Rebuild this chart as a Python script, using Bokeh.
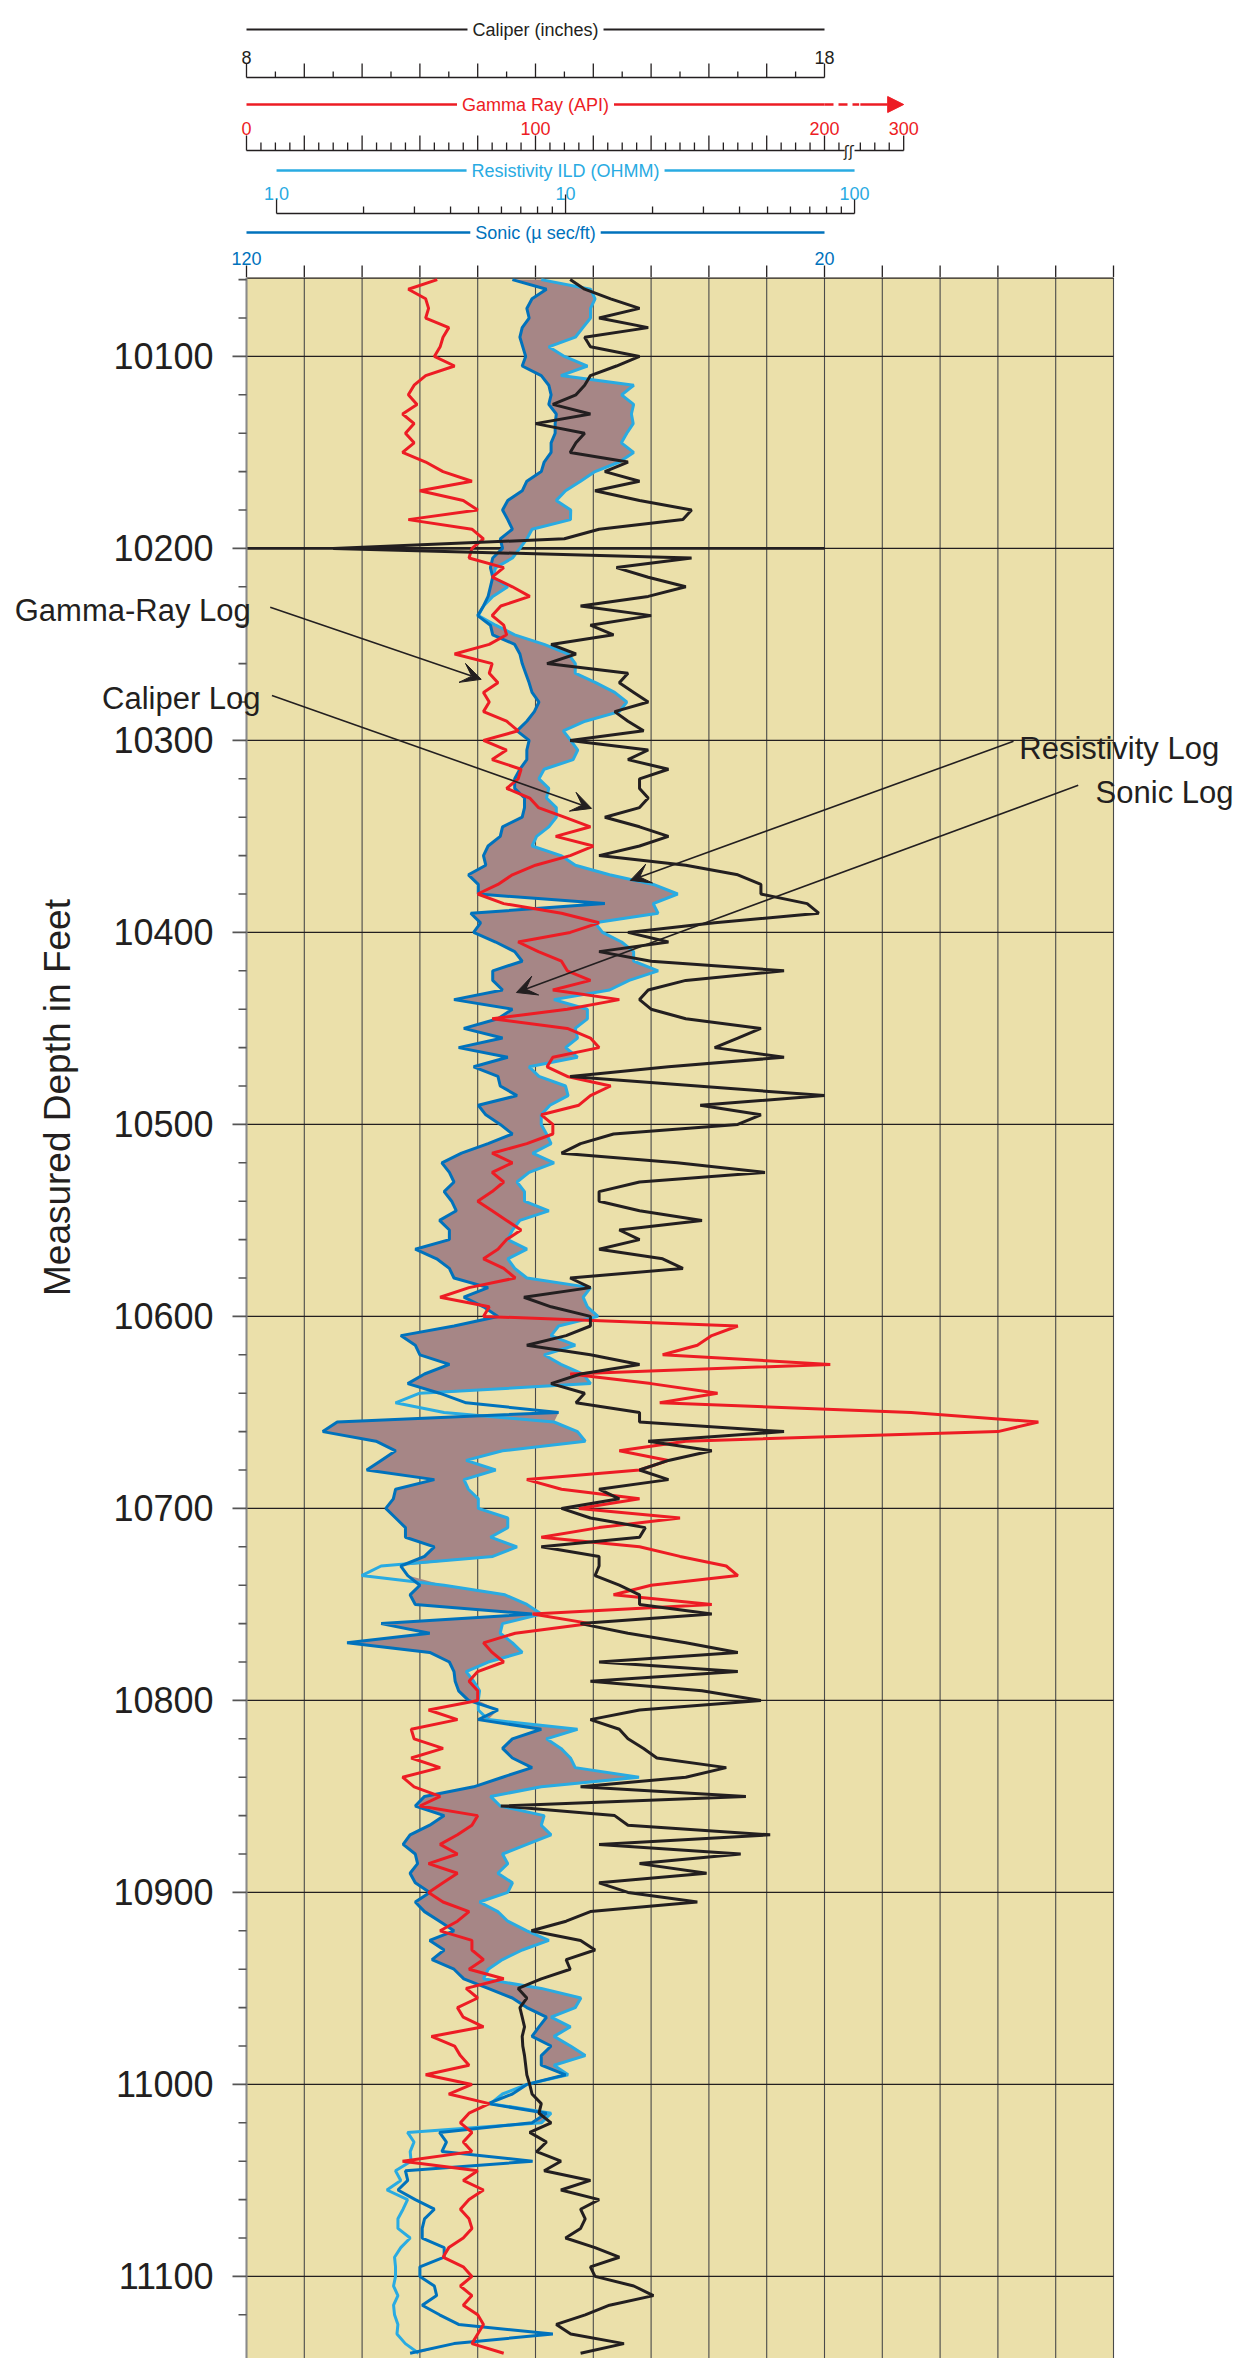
import numpy as np
from bokeh.plotting import figure
from bokeh.layouts import column
from bokeh.models import (Range1d, LogScale, Label, Arrow, VeeHead, NormalHead,
                          BoxAnnotation, ColumnDataSource)
from bokeh.embed import file_html
from bokeh.resources import INLINE
from bokeh.core.properties import value

# ---------------- data ----------------
depth_ft = list(range(10060, 11141, 5))

gamma_api = [
    66, 56, 62, 63, 62, 70, 68, 67, 65, 72, 62, 58, 56, 59, 54, 58, 55, 58, 54, 62,
    68, 78, 60, 75, 80, 56, 78, 82, 78, 77, 89, 85, 92, 98, 88, 85,
    89, 90, 84, 72, 85, 84, 87, 82, 84, 82, 90, 94, 82, 90, 85, 95, 94, 90, 98, 101,
    110, 119, 107, 120, 112, 100, 92, 87, 80, 89, 109, 122, 112, 94, 101, 109,
    111, 119, 106, 129, 111, 85, 111, 119, 122, 106, 104, 111, 126, 119, 115, 102, 106, 106, 97, 85,
    92, 85, 89, 85, 80, 85, 90, 95, 90, 87, 82, 89, 93, 77, 67, 84, 82,
    170, 161, 156, 144, 202, 112, 140, 163, 143, 230, 274, 260, 152, 129, 146, 136, 97, 109, 136, 115,
    150, 122, 102, 136, 150, 166, 170, 140, 127, 161, 99, 119, 93, 82, 85, 89,
    80, 77, 80, 80, 63, 73, 57, 58, 68, 57, 67, 54, 58, 67, 60, 80, 78, 73, 67, 73,
    63, 73, 68, 63, 68, 77, 73, 67, 78, 78, 82, 77, 89, 76, 80, 73, 75,
    82, 64, 72, 74, 77, 62, 78, 70, 84, 77, 74, 78, 75, 78, 54, 80, 75, 82, 77, 74,
    77, 78, 75, 70, 68, 75, 78, 74, 78, 75, 80, 82, 80, 78, 89,
]

caliper_in = [
    13.6, 13.85, 14.3, 14.8, 14.1, 14.95, 13.85, 13.95, 14.8, 14.4, 13.95, 13.85, 13.7, 13.3, 13.95,
    13.0, 13.85, 13.7, 13.6, 14.6, 14.2, 14.8, 14.03, 14.8, 15.7, 15.55, 14.1, 13.5, 9.5, 15.7,
    14.4, 14.95, 15.6, 14.95, 13.78, 15.0,
    13.95, 14.35, 13.27, 13.7, 13.2, 14.6, 14.45, 14.7, 14.95, 14.37, 14.6, 14.87, 13.6, 14.95, 14.6,
    15.3, 14.8, 14.8, 14.95, 14.8, 14.2, 14.8, 15.3, 14.8, 14.1, 15.6, 16.5, 16.9, 16.9, 17.7,
    17.9, 16.1, 14.6, 15.3, 14.1, 15.0,
    17.3, 15.6, 14.95, 14.8, 15.0, 15.6, 16.9, 16.5, 16.1, 17.3, 15.3, 13.6, 15.8, 18.0, 15.85,
    16.9, 16.5, 14.35, 13.78, 13.45, 15.45, 16.97, 14.8, 14.1, 14.1, 14.8, 15.88, 14.45, 14.8, 14.1,
    15.2, 15.55, 13.6, 13.95, 12.8, 13.27, 13.95,
    13.95, 13.53, 12.85, 13.95, 14.8, 13.78, 13.27, 13.85, 13.7, 14.8, 14.8, 17.3, 14.95, 16.05, 15.3,
    14.8, 15.3, 14.1, 14.45, 13.45, 13.95, 14.9, 14.8, 13.1, 14.1, 14.1, 14.03, 14.45, 14.8, 14.8,
    16.05, 13.78, 14.6, 15.6, 16.5, 14.1,
    16.5, 13.95, 15.88, 16.9, 14.8, 13.95, 14.45, 14.6, 14.87, 15.1, 16.3, 15.6, 13.78, 16.64, 12.4,
    14.37, 14.6, 17.06, 14.1, 16.55, 14.8, 15.96, 14.1, 14.6, 15.8, 13.95, 13.53, 12.93, 13.78, 14.03,
    13.53, 13.6, 13.1, 12.7, 12.85, 12.73, 12.77,
    12.81, 12.77, 12.78, 12.81, 12.83, 12.85, 12.9, 12.94, 13.1, 13.06, 13.27, 12.9, 13.19, 13.02, 13.44,
    13.15, 13.95, 13.44, 14.1, 13.78, 13.86, 13.78, 13.52, 14.03, 14.45, 13.95, 14.03, 14.7, 15.04, 14.28,
    13.86, 13.36, 13.61, 14.53, 13.78,
]

resistivity_ohmm = [
    8.24, 12.2, 12.65, 12.2, 12.2, 11.48, 10.81, 8.75, 9.91, 11.91, 9.64, 17.22, 15.63, 17.2, 16.9,
    17.14, 16.29, 15.6, 17.2, 15.35, 12.65, 11.27, 10.0, 9.29, 10.42, 10.4, 7.66, 7.35, 6.95, 6.55,
    5.73, 5.6, 6.31, 5.6, 5.2, 4.99,
    5.73, 6.67, 8.43, 10.23, 10.81, 10.8, 12.76, 14.79, 16.29, 15.35, 11.69, 9.82, 10.42, 11.02, 10.62,
    8.43, 8.09, 8.75, 8.59, 9.29, 9.29, 8.75, 7.94, 7.66, 9.64, 10.81, 14.19, 20.14, 24.43, 20.1,
    20.89, 12.65, 13.43, 15.63, 17.2, 17.2,
    20.9, 16.6, 14.2, 9.12, 11.9, 11.9, 10.8, 11.0, 10.0, 11.0, 7.48, 8.09, 10.0, 10.2, 8.83,
    8.24, 8.24, 8.59, 8.91, 7.69, 9.12, 7.48, 6.79, 7.21, 7.21, 8.75, 6.95, 6.55, 6.31, 7.35,
    6.31, 6.67, 7.35, 12.2, 11.5, 11.9, 12.94,
    9.46, 8.91, 10.8, 8.43, 9.64, 11.5, 12.2, 3.13, 2.58, 3.80, 9.12, 11.0, 11.7, 6.05, 4.53,
    5.73, 4.45, 4.61, 4.99, 4.99, 6.31, 6.31, 5.50, 6.79, 5.6, 2.30, 1.97, 3.80, 6.17, 7.35,
    8.24, 6.05, 5.94, 6.55, 7.08, 5.40,
    4.53, 4.81, 5.04, 4.99, 4.99, 5.40, 11.0, 8.59, 9.64, 10.4, 10.8, 17.95, 8.24, 5.50, 5.94,
    8.43, 8.24, 8.91, 7.35, 6.05, 6.31, 5.83, 6.55, 6.31, 5.04, 5.83, 6.31, 7.35, 8.75, 7.08,
    6.05, 5.40, 5.2, 8.24, 11.3, 10.8, 8.91,
    10.4, 9.12, 10.4, 11.7, 9.12, 10.2, 7.35, 6.05, 5.50, 8.91, 8.24, 2.84, 2.99, 2.90, 2.92,
    2.58, 2.69, 2.41, 2.84, 2.74, 2.63, 2.63, 2.90, 2.69, 2.56, 2.58, 2.58, 2.54, 2.63, 2.54,
    2.56, 2.63, 2.61, 2.79, 3.10,
]

sonic_us_ft = [
    74.0, 68.1, 70.6, 71.5, 71.1, 72.3, 72.7, 72.2, 71.7, 72.3, 69.0, 67.7, 67.3, 67.7, 66.4,
    66.6, 66.6, 67.3, 67.3, 68.5, 69.0, 71.5, 72.3, 74.8, 75.7, 74.8, 74.0, 76.1, 75.7, 77.4,
    77.8, 77.4, 77.8, 78.2, 79.0, 80.0,
    77.8, 77.4, 73.6, 72.7, 72.3, 71.7, 71.1, 70.6, 69.4, 70.2, 71.5, 73.2, 71.1, 71.5, 71.5,
    72.7, 73.6, 73.6, 71.9, 71.9, 72.3, 75.7, 76.1, 78.2, 79.0, 78.6, 81.6, 79.9, 79.9, 58.0,
    81.2, 79.5, 80.7, 76.9, 73.6, 72.3,
    77.4, 77.4, 75.7, 84.1, 74.0, 76.5, 82.4, 75.7, 83.3, 74.8, 80.7, 76.5, 76.1, 73.2, 79.9,
    78.6, 76.1, 74.0, 78.2, 82.8, 86.2, 84.9, 84.1, 85.8, 84.5, 83.7, 86.6, 84.9, 84.9, 90.8,
    87.1, 84.9, 84.1, 78.2, 82.4, 79.0, 76.5,
    84.1, 93.3, 90.8, 90.0, 84.9, 89.2, 92.1, 86.6, 82.0, 66.0, 104.3, 106.8, 97.6, 94.2, 96.7,
    99.2, 87.5, 94.2, 94.6, 95.9, 94.2, 92.5, 92.5, 87.5, 89.2, 93.3, 92.1, 90.0, 91.7, 90.8,
    70.6, 96.7, 88.3, 102.6, 88.3, 84.9,
    84.1, 83.9, 83.3, 81.6, 76.5, 79.9, 69.0, 74.0, 75.7, 74.0, 70.6, 75.7, 80.7, 89.2, 90.8,
    85.8, 88.3, 91.7, 92.9, 90.8, 90.4, 91.7, 90.8, 88.3, 90.8, 89.2, 86.6, 84.1, 88.3, 85.8,
    87.9, 84.1, 82.4, 78.2, 74.0, 71.5, 68.1,
    69.4, 70.6, 67.3, 69.0, 69.0, 64.8, 71.5, 74.0, 78.2, 68.1, 70.6, 86.6, 85.4, 86.2, 70.5,
    92.5, 92.1, 93.8, 90.8, 87.5, 89.2, 89.6, 89.6, 85.8, 85.8, 90.0, 90.0, 87.5, 87.1, 89.6,
    86.6, 83.3, 67.0, 84.1, 91.7,
]

# depth axis ticks
depth_major = list(range(10100, 11101, 100))
depth_minor = [d for d in range(10060, 11140, 20) if d % 100]
marker_depth = [10200]          # emphasised depth line (drawn across the caliper scale)

# header scale ticks / labels
caliper_major = list(range(8, 19))
caliper_minor = [v + 0.5 for v in range(8, 18)]
caliper_labels = ["8", "18"]
gamma_major = list(range(0, 201, 20))
gamma_minor = [v for v in range(5, 206, 5) if v % 20 != 0]
gamma_hi_minor = [285, 290, 295]
gamma_hi_major = [300]
gamma_label_vals = [0, 100, 200]
res_end = [1, 100]
res_mid = [10]
res_minor = [2, 3, 4, 5, 6, 7, 8, 9, 20, 30, 40, 50, 60, 70, 80, 90]
res_label_vals = [1, 10, 100]
res_labels = ["1.0", "10", "100"]
sonic_ticks = list(range(120, -31, -10))
sonic_label_vals = [120, 20]

# ---------------- styling / geometry ----------------
FONT = "Liberation Sans"
TXT = "#231F20"
RED = "#ED1C24"
CYAN = "#29ABE2"
BLUE = "#0072BC"
FILL = "#A68686"
TAN = "#EBE0AA"
GRIDC = "#4a4a4a"

N_DIV = 15
SON_LEFT, SON_PER_DIV = 120, 10
RES_TRACK0 = 0.52            # track position of 1 ohm-m
RES_DIV_PER_DEC = 5
GR_PER_DIV = 20
GR_HI_300_POS = 11.37        # track position of the "300" mark after the scale break

W, LEFT, RIGHT = 1236, 246, 123
PX = (W - LEFT - RIGHT) / N_DIV      # pixels per track division
T0, T1 = -LEFT / PX, N_DIV + RIGHT / PX
HEAD_H = 277
MAIN_H = 2081
DEPTH_TOP = 10058.9
DEPTH_BOT = DEPTH_TOP + MAIN_H / 1.92


def son_track(v):
    return (SON_LEFT - np.asarray(v, float)) / SON_PER_DIV


def res_track(r):
    return RES_TRACK0 + RES_DIV_PER_DEC * np.log10(np.asarray(r, float))


def add_ranges(fig):
    fig.extra_x_ranges = {
        "cal": Range1d(8 + T0, 8 + T1),
        "gr": Range1d(GR_PER_DIV * T0, GR_PER_DIV * T1),
        "gr_hi": Range1d(300 + (T0 - GR_HI_300_POS) * GR_PER_DIV, 300 + (T1 - GR_HI_300_POS) * GR_PER_DIV),
        "son": Range1d(SON_LEFT - SON_PER_DIV * T0, SON_LEFT - SON_PER_DIV * T1),
        "res": Range1d(10 ** ((T0 - RES_TRACK0) / RES_DIV_PER_DEC), 10 ** ((T1 - RES_TRACK0) / RES_DIV_PER_DEC)),
    }
    fig.extra_x_scales = {"res": LogScale()}


track_range = Range1d(T0, T1)

# ---------------- main log track ----------------
p = figure(width=W, height=MAIN_H, x_range=track_range,
           y_range=Range1d(DEPTH_BOT, DEPTH_TOP),
           x_axis_location=None, y_axis_location=None,
           output_backend="svg", toolbar_location=None,
           min_border_left=0, min_border_right=0, min_border_top=0, min_border_bottom=0,
           background_fill_color="white", border_fill_color="white", outline_line_color=None)
add_ranges(p)
p.xgrid.visible = False
p.ygrid.visible = False

p.add_layout(BoxAnnotation(left=0, right=N_DIV, fill_color=TAN, fill_alpha=1.0,
                           line_color=None, level="underlay"))

divs = list(range(0, N_DIV + 1))
p.segment(x0=divs, x1=divs, y0=[DEPTH_TOP] * len(divs), y1=[DEPTH_BOT] * len(divs),
          line_color=GRIDC, line_width=1.1)
p.segment(x0=[0] * len(depth_major), x1=[N_DIV] * len(depth_major), y0=depth_major, y1=depth_major,
          line_color=TXT, line_width=1.2)
p.segment(x0=[caliper_major[0]], x1=[caliper_major[-1]], y0=marker_depth, y1=marker_depth,
          x_range_name="cal", line_color=TXT, line_width=2.6)
p.segment(x0=[0], x1=[N_DIV], y0=[DEPTH_TOP], y1=[DEPTH_TOP], line_color=TXT, line_width=2.4)

# depth axis (left edge of the track)
p.segment(x0=[0], x1=[0], y0=[DEPTH_TOP], y1=[DEPTH_BOT], line_color="#8a8a8a", line_width=2)
p.segment(x0=[-14 / PX] * len(depth_major), x1=[0] * len(depth_major), y0=depth_major, y1=depth_major,
          line_color="#555555", line_width=1.6)
p.segment(x0=[-8 / PX] * len(depth_minor), x1=[0] * len(depth_minor), y0=depth_minor, y1=depth_minor,
          line_color="#555555", line_width=1.6)
p.text(x=[-33 / PX] * len(depth_major), y=depth_major, text=[str(d) for d in depth_major],
       text_align="right", text_baseline="middle", text_font=value(FONT),
       text_font_size=value("36px"), text_color=TXT)
p.text(x=[T0 + 57 / PX], y=[10486], text=["Measured Depth in Feet"], angle=np.pi / 2,
       text_align="center", text_baseline="middle", text_font=value(FONT),
       text_font_size=value("37px"), text_color=TXT)

s_tr = son_track(sonic_us_ft)
r_tr = res_track(resistivity_ohmm)
src = ColumnDataSource(dict(depth=depth_ft, gamma=gamma_api, cal=caliper_in,
                            res=resistivity_ohmm, son=sonic_us_ft,
                            s_tr=s_tr, fill_to=np.maximum(r_tr, s_tr)))

p.harea(x1="s_tr", x2="fill_to", y="depth", source=src, fill_color=FILL, fill_alpha=1.0)
p.line(x="res", y="depth", source=src, x_range_name="res", line_color=CYAN, line_width=3)
p.line(x="son", y="depth", source=src, x_range_name="son", line_color=BLUE, line_width=3)
p.line(x="gamma", y="depth", source=src, x_range_name="gr", line_color=RED, line_width=3)
p.line(x="cal", y="depth", source=src, x_range_name="cal", line_color=TXT, line_width=3)

# callouts
callouts = [
    ("Gamma-Ray Log", -4.01, 10232.3, (0.41, 10230.7), (4.06, 10268.2)),
    ("Caliper Log", -2.50, 10278.1, (0.44, 10276.6), (5.97, 10335.4)),
    ("Resistivity Log", 13.37, 10304.2, (13.27, 10300.5), (6.64, 10372.9)),
    ("Sonic Log", 14.69, 10327.1, (14.39, 10323.4), (4.67, 10431.3)),
]
for text, tx, ty, (x0, y0), (x1, y1) in callouts:
    p.add_layout(Label(x=tx, y=ty, text=text, text_font=FONT, text_font_size="31px",
                       text_color=TXT, text_align="left", text_baseline="alphabetic"))
    p.add_layout(Arrow(x_start=x0, y_start=y0, x_end=x1, y_end=y1, line_color=TXT, line_width=1.6,
                       end=VeeHead(size=20, fill_color=TXT, line_color=TXT, line_width=1)))

# mirror label, almost entirely beyond the right edge of the page
p.add_layout(Label(x=17.42, y=10588, text="Measured Depth in Feet", angle=90, angle_units="deg",
                   text_font=FONT, text_font_size="32px", text_color=TXT,
                   text_align="left", text_baseline="alphabetic"))

# ---------------- header with the scales ----------------
h = figure(width=W, height=HEAD_H, x_range=track_range, y_range=Range1d(HEAD_H, 0),
           x_axis_location=None, y_axis_location=None,
           output_backend="svg", toolbar_location=None,
           min_border_left=0, min_border_right=0, min_border_top=0, min_border_bottom=0,
           outline_line_color=None, background_fill_color="white", border_fill_color="white")
add_ranges(h)
h.xgrid.visible = False
h.ygrid.visible = False


def ticks(vals, y_top, y_bot, rng, color=TXT, width=1.3):
    n = len(vals)
    h.segment(x0=vals, x1=vals, y0=[y_top] * n, y1=[y_bot] * n, x_range_name=rng,
              line_color=color, line_width=width)


def title(x, y, text, rng, color):
    h.add_layout(Label(x=x, y=y, text=text, x_range_name=rng, text_font=FONT, text_font_size="18px",
                       text_color=color, text_align="center", text_baseline="middle",
                       background_fill_color="white", padding=5))


def tlabels(xs, y, texts, rng, color):
    h.text(x=xs, y=[y] * len(xs), text=texts, x_range_name=rng, text_align="center",
           text_baseline="alphabetic", text_font=value(FONT), text_font_size=value("18px"),
           text_color=color)


# caliper
h.line(x=[caliper_major[0], caliper_major[-1]], y=[29, 29], x_range_name="cal", line_color=TXT, line_width=2.2)
title((caliper_major[0] + caliper_major[-1]) / 2, 29, "Caliper (inches)", "cal", TXT)
tlabels([caliper_major[0], caliper_major[-1]], 57, caliper_labels, "cal", TXT)
h.line(x=[caliper_major[0], caliper_major[-1]], y=[77, 77], x_range_name="cal", line_color=TXT, line_width=1.3)
ticks(caliper_major, 63, 77, "cal")
ticks(caliper_minor, 71, 77, "cal")

# gamma ray
h.line(x=[gamma_major[0], gamma_major[-1]], y=[104, 104], x_range_name="gr", line_color=RED, line_width=2.4)
h.line(x=[gamma_major[-1], 212], y=[104, 104], x_range_name="gr", line_color=RED, line_width=2.4,
       line_dash="9 5")
h.add_layout(Arrow(x_start=285, y_start=104, x_end=gamma_hi_major[0], y_end=104, x_range_name="gr_hi",
                   line_color=RED, line_width=2.4,
                   end=NormalHead(size=16, fill_color=RED, line_color=RED, line_width=1)))
title(gamma_label_vals[1], 104, "Gamma Ray (API)", "gr", RED)
tlabels(gamma_label_vals, 128, [str(v) for v in gamma_label_vals], "gr", RED)
tlabels(gamma_hi_major, 128, [str(v) for v in gamma_hi_major], "gr_hi", RED)
h.line(x=[gamma_major[0], 207], y=[150, 150], x_range_name="gr", line_color=TXT, line_width=1.3)
h.line(x=[283, gamma_hi_major[0]], y=[150, 150], x_range_name="gr_hi", line_color=TXT, line_width=1.3)
ticks(gamma_major, 135, 150, "gr")
ticks(gamma_minor, 142, 150, "gr")
ticks(gamma_hi_major, 135, 150, "gr_hi")
ticks(gamma_hi_minor, 142, 150, "gr_hi")
h.text(x=[208.4], y=[151], text=["ʃʃ"], x_range_name="gr", text_align="center", text_baseline="middle",
       text_font=value("DejaVu Sans"), text_font_size=value("15px"), text_color=TXT)

# resistivity
h.line(x=[res_end[0], res_end[-1]], y=[170, 170], x_range_name="res", line_color=CYAN, line_width=2.4)
title(res_mid[0], 170, "Resistivity ILD (OHMM)", "res", CYAN)
tlabels(res_label_vals, 193, res_labels, "res", CYAN)
h.line(x=[res_end[0], res_end[-1]], y=[213, 213], x_range_name="res", line_color=TXT, line_width=1.3)
ticks(res_end, 199, 213, "res")
ticks(res_mid, 194, 213, "res")
ticks(res_minor, 206, 213, "res")

# sonic
h.line(x=[sonic_label_vals[0], sonic_label_vals[-1]], y=[232, 232], x_range_name="son",
       line_color=BLUE, line_width=2.4)
title((sonic_label_vals[0] + sonic_label_vals[-1]) / 2, 232, "Sonic (\u00b5 sec/ft)", "son", BLUE)
tlabels(sonic_label_vals, 258, [str(v) for v in sonic_label_vals], "son", BLUE)
ticks(sonic_ticks, 265, HEAD_H, "son")

layout = column(h, p, spacing=0)
open("out.html", "w").write(file_html(layout, INLINE))
